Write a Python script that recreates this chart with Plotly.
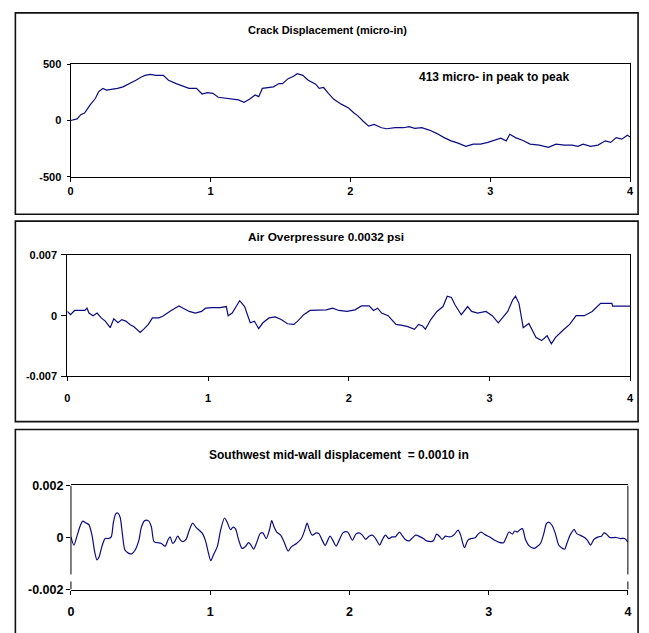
import plotly.graph_objects as go

W, H = 649, 633

# ---------------- data ----------------
x_ticks = [0, 1, 2, 3, 4]

crack_t = [0, 0.047, 0.073, 0.10, 0.14, 0.178, 0.20, 0.23, 0.257, 0.283, 0.31, 0.335, 0.375, 0.414,
           0.467, 0.506, 0.532, 0.571, 0.61, 0.663, 0.70, 0.755, 0.807, 0.847, 0.90, 0.94, 0.978,
           1.017, 1.056, 1.109, 1.161, 1.20, 1.24, 1.279, 1.319, 1.345, 1.371, 1.41, 1.45, 1.49,
           1.515, 1.555, 1.594, 1.62, 1.66, 1.699, 1.752, 1.777, 1.809, 1.843, 1.882, 1.935, 1.987,
           2.026, 2.052, 2.092, 2.131, 2.17, 2.223, 2.26, 2.32, 2.38, 2.42, 2.46, 2.51, 2.564, 2.616,
           2.67, 2.72, 2.77, 2.826, 2.878, 2.93, 2.983, 3.022, 3.075, 3.114, 3.14, 3.18, 3.23, 3.285,
           3.35, 3.416, 3.47, 3.53, 3.586, 3.626, 3.664, 3.717, 3.77, 3.822, 3.861, 3.90, 3.94, 3.98, 4.0]
crack_v = [0, 15, 52, 67, 140, 198, 256, 286, 271, 277, 277, 286, 300, 324,
           359, 388, 402, 411, 402, 402, 359, 329, 306, 286, 286, 236, 248,
           242, 207, 198, 189, 184, 163, 189, 227, 213, 286, 294, 300, 329,
           329, 373, 394, 417, 402, 359, 324, 286, 294, 242, 189, 146, 111,
           67, 44, -6, -50, -35, -64, -73, -64, -64, -55, -70, -64, -85, -114,
           -152, -181, -201, -230, -210, -210, -195, -181, -157, -181, -122, -152, -175, -210,
           -219, -239, -210, -219, -219, -230, -210, -230, -219, -181, -195, -152, -166, -131, -146]
crack_yticks = [-500, 0, 500]
crack_ytext = ["-500", "0", "500"]

air_t = [0.000, 0.023, 0.052, 0.125, 0.140, 0.154, 0.183, 0.212, 0.241, 0.270,
         0.305, 0.330, 0.360, 0.387, 0.416, 0.445, 0.474, 0.518, 0.547, 0.576,
         0.605, 0.650, 0.678, 0.707, 0.736, 0.765, 0.794, 0.823, 0.867, 0.910,
         0.954, 0.983, 1.027, 1.085, 1.130, 1.143, 1.172, 1.200, 1.225, 1.260,
         1.290, 1.300, 1.330, 1.360, 1.390, 1.434, 1.478, 1.520, 1.565, 1.610,
         1.637, 1.680, 1.725, 1.783, 1.840, 1.885, 1.930, 1.987, 2.045, 2.090,
         2.145, 2.176, 2.205, 2.234, 2.280, 2.305, 2.336, 2.380, 2.420, 2.467,
         2.496, 2.525, 2.545, 2.583, 2.627, 2.670, 2.700, 2.730, 2.756, 2.800,
         2.845, 2.873, 2.916, 2.975, 3.020, 3.063, 3.090, 3.130, 3.165, 3.185,
         3.210, 3.240, 3.280, 3.330, 3.370, 3.410, 3.440, 3.470, 3.530, 3.570,
         3.616, 3.674, 3.730, 3.790, 3.870, 3.875, 4.000]
air_v = [4.9e-4, 1.1e-4, 6.0e-4, 6.0e-4, 8.6e-4, 3.0e-4, 0.0, 3.0e-4, -2.6e-4, -6.3e-4,
         -13.8e-4, -3.7e-4, -8.2e-4, -4.5e-4, -6.3e-4, -10.1e-4, -12.7e-4, -19.4e-4, -15.0e-4, -10.1e-4,
         -2.6e-4, -2.6e-4, -0.7e-4, 3.0e-4, 5.6e-4, 8.6e-4, 11.2e-4, 8.6e-4, 4.9e-4, 3.0e-4,
         4.9e-4, 8.6e-4, 9.3e-4, 9.3e-4, 10.5e-4, 0.0, 3.0e-4, 10.5e-4, 17.2e-4, 10.5e-4,
         -2.6e-4, -8.2e-4, -6.3e-4, -15.0e-4, -8.2e-4, -2.6e-4, -1.5e-4, -4.5e-4, -9.3e-4, -10.1e-4,
         -6.3e-4, 1.1e-4, 6.0e-4, 6.0e-4, 6.7e-4, 8.6e-4, 6.0e-4, 4.9e-4, 6.7e-4, 11.2e-4,
         11.2e-4, 6.0e-4, 8.6e-4, 3.0e-4, 0.0, -4.5e-4, -10.1e-4, -11.2e-4, -12.7e-4, -15.7e-4,
         -10.1e-4, -11.9e-4, -15.7e-4, -4.5e-4, 4.9e-4, 10.5e-4, 22.4e-4, 20.9e-4, 12.3e-4, 1.1e-4,
         10.5e-4, 4.9e-4, 3.0e-4, 4.9e-4, 0.0, -8.2e-4, -2.6e-4, 4.9e-4, 17.9e-4, 22.4e-4,
         14.2e-4, -13.8e-4, -9.0e-4, -25.0e-4, -28.7e-4, -23.1e-4, -32.5e-4, -25.0e-4, -15.7e-4, -10.1e-4,
         0.0, 0.0, 4.9e-4, 14.2e-4, 14.2e-4, 11.0e-4, 11.0e-4]
air_yticks = [-0.007, 0, 0.007]
air_ytext = ["-0.007", "0", "0.007"]

wall_t = [0.000, 0.021, 0.045, 0.068, 0.085, 0.104, 0.128, 0.151, 0.170, 0.187,
          0.203, 0.222, 0.246, 0.270, 0.289, 0.305, 0.322, 0.336, 0.353, 0.369,
          0.388, 0.412, 0.436, 0.459, 0.488, 0.506, 0.530, 0.559, 0.578, 0.597,
          0.625, 0.649, 0.677, 0.696, 0.712, 0.731, 0.748, 0.767, 0.786, 0.803,
          0.826, 0.850, 0.874, 0.897, 0.921, 0.945, 0.968, 0.985, 1.004, 1.023,
          1.051, 1.075, 1.103, 1.122, 1.146, 1.165, 1.181, 1.205, 1.229, 1.252,
          1.276, 1.293, 1.312, 1.336, 1.359, 1.378, 1.402, 1.425, 1.442, 1.459,
          1.478, 1.506, 1.530, 1.560, 1.584, 1.620, 1.655, 1.679, 1.696, 1.714,
          1.733, 1.762, 1.781, 1.804, 1.826, 1.845, 1.861, 1.880, 1.904, 1.927,
          1.956, 1.987,
          2.022, 2.046, 2.070, 2.093, 2.117, 2.141, 2.165, 2.188, 2.217, 2.235,
          2.259, 2.283, 2.306, 2.330, 2.359, 2.377, 2.401, 2.430, 2.448, 2.477,
          2.508, 2.531, 2.555, 2.602, 2.626, 2.650, 2.666, 2.690, 2.714, 2.737,
          2.756, 2.780, 2.799, 2.811, 2.827, 2.851, 2.875, 2.903, 2.927, 2.946,
          2.974, 3.005, 3.040, 3.076, 3.107, 3.123, 3.147, 3.171, 3.187, 3.206,
          3.225, 3.242, 3.266, 3.289, 3.325, 3.348, 3.372, 3.396, 3.415, 3.431,
          3.455, 3.479, 3.503, 3.521, 3.545, 3.562, 3.585, 3.614, 3.633, 3.656,
          3.680, 3.708, 3.732, 3.756, 3.787, 3.810, 3.829, 3.846, 3.870, 3.917,
          3.945, 3.976, 4.000]
wall_v = [0.25e-4, -2.9e-4, 0.9e-4, 4.7e-4, 6.3e-4, 5.7e-4, 5.0e-4, 0.9e-4, -5.4e-4, -8.6e-4,
          -7.3e-4, -3.5e-4, -0.4e-4, -0.4e-4, 0.25e-4, 5.9e-4, 9.1e-4, 9.4e-4, 7.8e-4, 1.5e-4,
          -4.8e-4, -6.0e-4, -6.3e-4, -5.0e-4, -1.0e-4, 4.0e-4, 6.5e-4, 6.3e-4, 4.0e-4, -1.6e-4,
          -2.0e-4, -2.3e-4, -3.3e-4, -1.0e-4, 0.25e-4, -2.3e-4, -1.3e-4, 0.5e-4, -1.0e-4, -1.6e-4,
          -0.75e-4, 2.8e-4, 5.5e-4, 4.0e-4, 2.8e-4, 1.5e-4, -1.6e-4, -5.4e-4, -8.9e-4, -6.7e-4,
          -3.5e-4, 2.8e-4, 7.5e-4, 5.9e-4, 3.0e-4, 4.0e-4, 3.4e-4, -1.0e-4, -4.2e-4, -3.5e-4,
          -2.0e-4, -2.9e-4, -4.5e-4, -1.6e-4, 1.5e-4, 1.8e-4, -0.4e-4, 2.8e-4, 6.5e-4, 4.0e-4,
          2.1e-4, 0.9e-4, -1.6e-4, -5.2e-4, -3.5e-4, -2.3e-4, -0.4e-4, 2.8e-4, 5.5e-4, 2.8e-4,
          0.9e-4, 1.8e-4, 1.5e-4, -1.0e-4, -3.0e-4, -1.0e-4, 0.5e-4, -1.0e-4, -3.3e-4, -1.0e-4,
          1.9e-4, 2.1e-4,
          -1.0e-4, 1.3e-4, 1.8e-4, 0.9e-4, -0.75e-4, 0.5e-4, 0.9e-4, -0.4e-4, -2.9e-4, -1.0e-4,
          0.9e-4, -0.4e-4, 0.25e-4, 0.25e-4, 2.1e-4, 0.9e-4, -0.75e-4, -1.3e-4, -0.4e-4, 0.9e-4,
          0.25e-4, -0.4e-4, -1.3e-4, -1.3e-4, 1.3e-4, 0.25e-4, -0.75e-4, 0.5e-4, 0.25e-4, 0.5e-4,
          1.3e-4, 2.8e-4, 0.9e-4, -1.6e-4, -3.9e-4, -1.0e-4, -0.4e-4, -0.1e-4, 1.5e-4, 2.1e-4,
          1.1e-4, 0.25e-4, -1.0e-4, -1.9e-4, -2.0e-4, -0.4e-4, 2.1e-4, 1.3e-4, 2.5e-4, 2.1e-4,
          3.0e-4, 3.4e-4, -1.0e-4, -3.1e-4, -4.2e-4, -3.5e-4, -2.3e-4, 1.5e-4, 5.3e-4, 5.9e-4,
          4.7e-4, 1.5e-4, -2.9e-4, -3.8e-4, -4.5e-4, -2.3e-4, 0.9e-4, 3.0e-4, 1.5e-4, 0.9e-4,
          0.25e-4, -1.0e-4, -2.9e-4, -0.75e-4, 0.25e-4, 0.5e-4, 1.8e-4, 1.3e-4, 0.0, 0.0,
          -0.4e-4, -0.4e-4, -1.8e-4]
wall_yticks = [-0.002, 0, 0.002]
wall_ytext = ["-0.002", "0", "0.002"]

assert len(crack_t) == len(crack_v)
assert len(air_t) == len(air_v)
assert len(wall_t) == len(wall_v)

titles = ["Crack Displacement (micro-in)", "Air Overpressure 0.0032 psi",
          "Southwest mid-wall displacement  = 0.0010 in"]
note_text = "413 micro- in peak to peak"

# ---------------- layout helpers (pixels -> paper) ----------------
def px(v):
    return v / W


def py(v):
    return 1 - v / H


FONT = "Liberation Sans, Arial, sans-serif"
LINE = "#0b0b82"

fig = go.Figure()
fig.add_trace(go.Scatter(x=crack_t, y=crack_v, mode="lines", line=dict(color=LINE, width=1.2),
                         xaxis="x", yaxis="y", showlegend=False, hoverinfo="skip"))
fig.add_trace(go.Scatter(x=air_t, y=air_v, mode="lines", line=dict(color=LINE, width=1.2),
                         xaxis="x2", yaxis="y2", showlegend=False, hoverinfo="skip"))
fig.add_trace(go.Scatter(x=wall_t, y=wall_v, mode="lines",
                         line=dict(color=LINE, width=1.2, shape="spline", smoothing=0.8),
                         xaxis="x3", yaxis="y3", showlegend=False, hoverinfo="skip"))

# plot areas in pixels: (left, right, top, bottom)
areas = [(68.3, 634.0, 58.7, 173.5), (65.0, 634.0, 253.5, 377.8), (68.7, 631.7, 489.3, 595.7)]
yranges = [[-500, 500], [-0.007, 0.007], [-0.002, 0.002]]
yticks = [(crack_yticks, crack_ytext), (air_yticks, air_ytext), (wall_yticks, wall_ytext)]
tick_sizes = [11, 11, 12.5]
x_standoff = [0, 7, 6]
y_standoff = [3, 2, 0]
y_ticklen = [3, 5, 4]

layout = dict(width=W, height=H, margin=dict(l=0, r=0, t=0, b=0), autosize=False,
              paper_bgcolor="white", plot_bgcolor="white", showlegend=False, hovermode=False)

for i, (l, r, t, b) in enumerate(areas):
    sfx = "" if i == 0 else str(i + 1)
    tf = dict(family=FONT, size=tick_sizes[i], color="black", weight="bold")
    layout["xaxis" + sfx] = dict(domain=[px(l), px(r)], anchor="y" + sfx, range=[0, 4],
                                 tickmode="array", tickvals=x_ticks, ticktext=[str(v) for v in x_ticks],
                                 ticks="outside", ticklen=4, tickcolor="black", tickwidth=1,
                                 showline=True, linecolor="black", linewidth=1, mirror=True,
                                 showgrid=False, zeroline=False, tickfont=tf,
                                 ticklabelstandoff=x_standoff[i], fixedrange=True)
    layout["yaxis" + sfx] = dict(domain=[py(b), py(t)], anchor="x" + sfx, range=yranges[i],
                                 tickmode="array", tickvals=yticks[i][0], ticktext=yticks[i][1],
                                 ticks="outside", ticklen=y_ticklen[i], tickcolor="black", tickwidth=1,
                                 showline=(i != 2), linecolor="black", linewidth=1, mirror=True,
                                 showgrid=False, zeroline=False, tickfont=tf,
                                 ticklabelstandoff=y_standoff[i], fixedrange=True)

fig.update_layout(**layout)

# outer chart boxes
boxes = [(12.5, 6, 642, 212), (12.5, 219, 642, 424), (12.5, 432, 642, 660)]
for (x0, y0, x1, y1) in boxes:
    fig.add_shape(type="rect", xref="paper", yref="paper", x0=px(x0), x1=px(x1), y0=py(y1), y1=py(y0),
                  line=dict(color="#111111", width=1.6), fillcolor="rgba(0,0,0,0)", layer="above")

# bottom plot-area side borders with the small break near the bottom
gap_lo, gap_hi = -0.00169, -0.00142
for xd in (0, 1):
    fig.add_shape(type="line", xref="x3 domain", yref="y3", x0=xd, x1=xd, y0=gap_hi, y1=0.002,
                  line=dict(color="black", width=1))
    fig.add_shape(type="line", xref="x3 domain", yref="y3", x0=xd, x1=xd, y0=-0.002, y1=gap_lo,
                  line=dict(color="black", width=1))

# titles
title_pos = [(328, 24, 11), (327, 235, 11.8), (340, 458, 12)]
for text, (cx, cy, fs) in zip(titles, title_pos):
    fig.add_annotation(text=text, xref="paper", yref="paper", x=px(cx), y=py(cy),
                       xanchor="center", yanchor="middle", showarrow=False,
                       font=dict(family=FONT, size=fs, color="black", weight="bold"))

fig.add_annotation(text=note_text, xref="paper", yref="paper", x=px(496), y=py(72),
                   xanchor="center", yanchor="middle", showarrow=False,
                   font=dict(family=FONT, size=12, color="black", weight="bold"))

fig.write_html("out.html", config={"displayModeBar": False, "staticPlot": True},
               post_script="document.body.style.margin='0px';document.body.style.overflow='hidden';")
